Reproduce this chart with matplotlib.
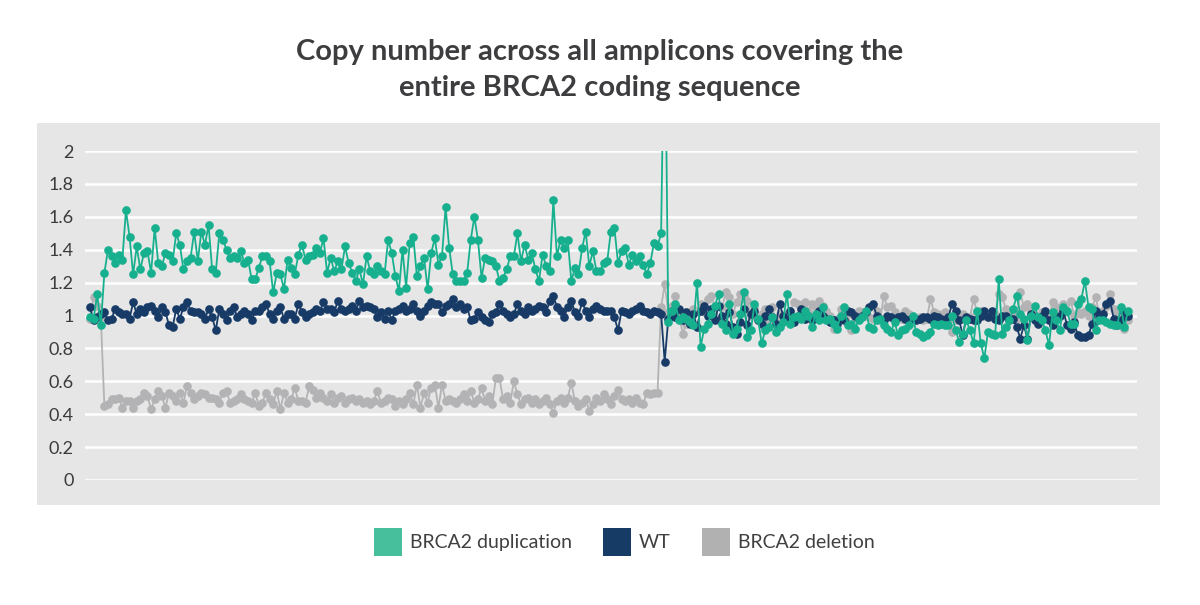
import numpy as np
import matplotlib
matplotlib.use("Agg")
import matplotlib.pyplot as plt
from matplotlib.patches import Rectangle, Patch

# copy number per amplicon
dup_values = [
    0.99, 0.98, 1.13, 0.94, 1.26, 1.40, 1.36, 1.32, 1.37, 1.34,
    1.64, 1.48, 1.25, 1.42, 1.28, 1.38, 1.39, 1.26, 1.53, 1.32,
    1.30, 1.38, 1.37, 1.33, 1.50, 1.43, 1.28, 1.33, 1.35, 1.51,
    1.33, 1.51, 1.43, 1.55, 1.28, 1.26, 1.50, 1.46, 1.40, 1.35,
    1.36, 1.35, 1.39, 1.32, 1.34, 1.22, 1.22, 1.29, 1.36, 1.36,
    1.33, 1.14, 1.26, 1.25, 1.16, 1.34, 1.29, 1.25, 1.37, 1.43,
    1.34, 1.36, 1.37, 1.41, 1.38, 1.47, 1.26, 1.35, 1.27, 1.33,
    1.28, 1.42, 1.32, 1.26, 1.21, 1.28, 1.19, 1.36, 1.27, 1.25,
    1.30, 1.27, 1.25, 1.46, 1.38, 1.24, 1.15, 1.40, 1.17, 1.44,
    1.48, 1.24, 1.30, 1.35, 1.16, 1.38, 1.47, 1.31, 1.36, 1.66,
    1.41, 1.25, 1.21, 1.21, 1.21, 1.26, 1.46, 1.60, 1.46, 1.23,
    1.35, 1.34, 1.33, 1.30, 1.21, 1.23, 1.28, 1.36, 1.36, 1.50,
    1.33, 1.43, 1.34, 1.38, 1.28, 1.21, 1.37, 1.30, 1.27, 1.70,
    1.36, 1.46, 1.41, 1.46, 1.21, 1.29, 1.25, 1.41, 1.51, 1.30,
    1.39, 1.27, 1.27, 1.32, 1.33, 1.51, 1.53, 1.32, 1.39, 1.41,
    1.31, 1.37, 1.33, 1.36, 1.31, 1.25, 1.32, 1.44, 1.42, 1.50,
    3.00,
    0.96, 1.03, 1.07, 0.97, 0.99, 0.98, 0.96, 0.94, 1.20, 0.81,
    0.92, 0.95, 1.01, 1.06, 1.13, 0.95, 0.91, 1.07, 0.89, 0.92,
    1.01, 1.14, 0.87, 0.91, 1.07, 0.98, 0.83, 0.91, 0.93, 0.99,
    0.90, 0.93, 0.96, 1.13, 0.95, 0.99, 1.00, 0.98, 1.03, 1.00,
    0.93, 1.01, 0.97, 1.05, 0.97, 0.98, 0.95, 0.92, 1.00, 1.05,
    0.94, 0.95, 0.92, 0.97, 0.99, 1.03, 0.93, 0.92, 0.97, 0.98,
    0.94, 0.92, 0.90, 0.96, 0.88, 0.91, 0.92, 0.94, 1.00, 0.90,
    0.89, 0.87, 0.88, 0.90, 0.95, 0.94, 0.95, 0.94, 0.94, 1.00,
    0.91, 0.84, 0.89, 0.97, 0.91, 0.83, 1.03, 0.83, 0.74, 0.90,
    0.89, 0.88, 1.22, 0.89, 0.93, 0.97, 1.04, 1.12, 1.01, 0.98,
    0.85, 1.00, 1.06, 0.99, 0.97, 0.91, 0.82, 1.02, 0.97, 0.91,
    1.05, 1.03, 0.95, 0.95, 1.07, 1.10, 1.21, 1.05, 1.04, 0.91,
    0.97, 0.97, 0.96, 0.95, 0.94, 0.94, 1.05, 0.93, 1.03,
]

wt_values = [
    1.05, 0.97, 0.99, 1.01, 1.02, 0.97, 0.98, 1.04, 1.02, 1.01,
    1.01, 0.98, 1.08, 1.01, 1.04, 1.02, 1.05, 1.06, 1.03, 0.99,
    1.05, 1.02, 0.94, 0.93, 1.04, 0.98, 1.05, 1.08, 1.03, 1.02,
    1.02, 1.01, 0.98, 1.04, 0.99, 0.91, 1.04, 1.01, 0.97, 1.03,
    1.05, 0.99, 1.01, 1.03, 1.01, 0.97, 1.03, 1.03, 1.05, 1.07,
    1.01, 0.98, 1.03, 1.05, 0.98, 1.01, 1.01, 0.98, 1.07, 1.02,
    0.99, 1.01, 1.02, 1.04, 1.03, 1.08, 1.04, 1.04, 1.02, 1.09,
    1.04, 1.03, 1.04, 1.06, 1.03, 1.09, 1.05, 1.06, 1.05, 1.04,
    0.99, 1.02, 0.98, 1.03, 0.97, 1.03, 1.04, 1.06, 1.03, 1.04,
    1.07, 1.03, 1.00, 1.03, 1.06, 1.08, 1.07, 1.07, 1.02, 1.06,
    1.07, 1.10, 1.05, 1.07, 1.04, 1.05, 0.97, 0.98, 1.02, 0.99,
    0.97, 0.96, 1.01, 1.02, 1.07, 1.03, 1.01, 0.99, 1.01, 1.07,
    1.03, 1.01, 1.05, 1.03, 1.04, 1.06, 1.05, 1.02, 1.09, 1.12,
    1.05, 1.03, 0.99, 1.05, 1.09, 1.02, 1.00, 1.08, 1.03, 0.99,
    1.04, 1.06, 1.04, 1.03, 1.03, 1.03, 0.99, 0.91, 1.03, 1.02,
    1.01, 1.03, 1.04, 1.06, 1.03, 1.02, 1.01, 1.03, 1.02, 1.01,
    0.72,
    0.98, 1.03, 0.99, 1.04, 0.97, 1.02, 0.95, 1.01, 0.93, 1.03,
    1.06, 1.00, 1.04, 0.97, 1.06, 1.00, 0.95, 1.02, 0.93, 0.89,
    0.96, 1.04, 0.94, 1.01, 1.03, 0.97, 0.95, 1.00, 1.04, 0.99,
    0.95, 1.07, 1.00, 0.97, 1.03, 0.96, 1.00, 1.04, 0.98, 1.00,
    0.97, 0.99, 1.03, 1.00, 0.98, 0.96, 0.97, 0.95, 0.98, 0.97,
    1.03, 1.02, 1.00, 0.98, 1.00, 1.02, 1.05, 1.07, 1.00, 0.98,
    0.97, 1.00, 0.99, 0.98, 0.99, 1.00, 0.98, 0.97, 0.99, 0.97,
    0.98, 0.99, 0.99, 0.98, 1.00, 0.99, 0.98, 0.97, 0.99, 1.07,
    1.03, 0.97, 0.88, 0.99, 0.98, 0.97, 0.97, 1.00, 1.03, 0.99,
    1.03, 0.98, 0.97, 1.00, 1.00, 0.97, 0.98, 0.93, 0.86, 0.94,
    0.86, 1.01, 0.97, 0.95, 1.00, 1.03, 0.97, 0.94, 0.99, 1.00,
    1.03, 0.94, 0.92, 0.96, 0.88, 0.87, 0.87, 0.88, 0.95, 1.03,
    0.99, 1.01, 1.07, 1.09, 0.98, 0.94, 0.97, 1.02, 1.00,
]

del_values = [
    0.98, 1.11, 1.06, 0.99, 0.45, 0.46, 0.49, 0.49, 0.50, 0.44,
    0.48, 0.48, 0.44, 0.48, 0.49, 0.53, 0.51, 0.43, 0.49, 0.54,
    0.51, 0.44, 0.53, 0.51, 0.48, 0.53, 0.47, 0.57, 0.53, 0.49,
    0.51, 0.53, 0.52, 0.50, 0.50, 0.49, 0.47, 0.53, 0.54, 0.47,
    0.48, 0.49, 0.52, 0.49, 0.48, 0.47, 0.53, 0.45, 0.47, 0.53,
    0.49, 0.46, 0.54, 0.43, 0.53, 0.47, 0.49, 0.56, 0.48, 0.48,
    0.47, 0.57, 0.55, 0.50, 0.53, 0.50, 0.48, 0.52, 0.47, 0.50,
    0.51, 0.47, 0.49, 0.50, 0.48, 0.49, 0.47, 0.48, 0.46, 0.48,
    0.54, 0.47, 0.48, 0.50, 0.49, 0.45, 0.48, 0.46, 0.49, 0.53,
    0.46, 0.58, 0.44, 0.53, 0.47, 0.56, 0.58, 0.44, 0.58, 0.48,
    0.49, 0.48, 0.47, 0.49, 0.52, 0.48, 0.54, 0.47, 0.49, 0.56,
    0.48, 0.51, 0.46, 0.62, 0.62, 0.49, 0.51, 0.47, 0.60, 0.52,
    0.46, 0.49, 0.50, 0.47, 0.49, 0.46, 0.48, 0.50, 0.46, 0.41,
    0.48, 0.50, 0.47, 0.50, 0.59, 0.48, 0.45, 0.47, 0.49, 0.42,
    0.46, 0.50, 0.48, 0.52, 0.49, 0.46, 0.51, 0.55, 0.49, 0.48,
    0.49, 0.47, 0.50, 0.47, 0.46, 0.53, 0.52, 0.53, 0.53, 1.05,
    1.19,
    1.02, 1.06, 1.12, 1.01, 0.89, 0.95, 1.02, 1.04, 1.03, 1.07,
    1.02, 1.10, 1.12, 1.05, 0.97, 1.05, 1.14, 1.11, 1.01, 1.08,
    1.13, 1.12, 1.09, 1.00, 1.05, 1.00, 1.01, 1.04, 0.98, 1.05,
    0.96, 1.01, 0.98, 1.01, 1.03, 1.08, 1.07, 1.06, 1.08, 1.03,
    1.07, 1.05, 1.09, 1.06, 1.03, 1.00, 0.92, 0.98, 1.04, 1.02,
    1.01, 0.91, 0.99, 1.03, 1.02, 1.00, 0.99, 0.98, 1.03, 0.97,
    1.12, 1.05, 1.06, 1.02, 1.00, 0.98, 1.03, 1.01, 0.99, 0.97,
    0.99, 0.97, 0.98, 1.10, 1.02, 1.01, 0.98, 1.02, 0.97, 0.90,
    0.97, 1.00, 1.01, 0.97, 0.99, 1.10, 1.02, 1.03, 1.00, 0.99,
    0.99, 1.01, 1.13, 1.11, 1.04, 1.01, 1.00, 0.98, 1.14, 1.05,
    1.07, 1.03, 1.00, 0.97, 1.02, 1.00, 0.99, 1.08, 1.05, 1.02,
    1.07, 1.02, 1.09, 1.00, 1.02, 1.01, 1.03, 1.00, 1.05, 1.11,
    1.01, 1.03, 1.06, 1.13, 1.04, 1.01, 1.00, 0.92, 0.97,
]

series_names = ["BRCA2 duplication", "WT", "BRCA2 deletion"]
y_ticks = [0, 0.2, 0.4, 0.6, 0.8, 1, 1.2, 1.4, 1.6, 1.8, 2]
y_tick_labels = ["0", "0.2", "0.4", "0.6", "0.8", "1", "1.2", "1.4", "1.6", "1.8", "2"]

green = "#17b08f"
navy = "#173b66"
grey = "#b3b3b5"

plt.rcParams["font.family"] = ["Lato", "DejaVu Sans"]

fig = plt.figure(figsize=(12, 6.05), dpi=100)
fig.patch.set_facecolor("white")

# grey panel behind the plot
fig.add_artist(Rectangle((37 / 1200, 1 - 505 / 605), (1160 - 37) / 1200, (505 - 123) / 605,
                         transform=fig.transFigure, facecolor="#e6e6e6", edgecolor="none", zorder=-5))

ax = fig.add_axes([85 / 1200, 1 - 480 / 605, (1137 - 85) / 1200, (480 - 151) / 605])
ax.set_zorder(2)
ax.set_facecolor("none")

for vals, col, z in [(del_values, grey, 2), (wt_values, navy, 3), (dup_values, green, 4)]:
    x = np.arange(len(vals))
    ax.plot(x, vals, color=col, lw=1.3, marker="o", ms=5.2, mec=col, mfc=col, zorder=z)

ax.set_xlim(-1.4, 291.5)
ax.set_ylim(0, 2)
ax.set_yticks(y_ticks)
ax.set_yticklabels(y_tick_labels)
ax.set_xticks([])
ax.grid(axis="y", color="white", lw=1.8, zorder=1)
ax.set_axisbelow(True)
for s in ax.spines.values():
    s.set_visible(False)
ax.tick_params(axis="y", length=0, pad=8, labelsize=13, labelcolor="#3a3a3a")

fig.text(0.5, 1 - 52 / 605, "Copy number across all amplicons covering the",
         ha="center", va="center", fontsize=21, fontweight="bold", color="#3d3d40")
fig.text(0.5, 1 - 88 / 605, "entire BRCA2 coding sequence",
         ha="center", va="center", fontsize=21, fontweight="bold", color="#3d3d40")

handles = [Patch(facecolor="#48bf9c", edgecolor="none"),
           Patch(facecolor="#163c66", edgecolor="none"),
           Patch(facecolor="#b1b1b1", edgecolor="none")]
fig.legend(handles, series_names, loc="center", bbox_to_anchor=(0.52, 1 - 542 / 605), ncol=3,
           frameon=False, handlelength=1.45, handleheight=1.8, handletextpad=0.4,
           columnspacing=1.6, fontsize=14, labelcolor="#404040")

fig.savefig("out.png", dpi=100, facecolor="white")
